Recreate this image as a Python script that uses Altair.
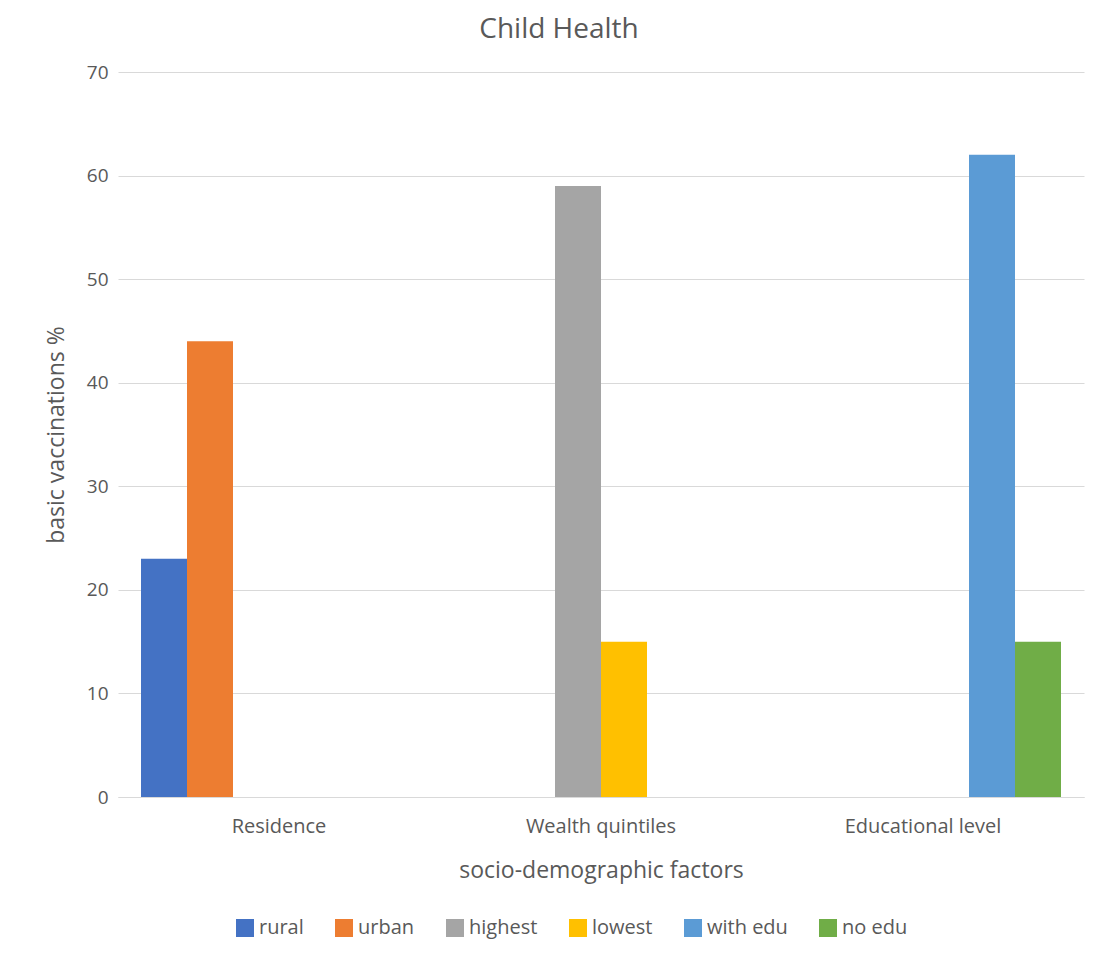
import altair as alt
import pandas as pd

categories = ["Residence", "Residence", "Wealth quintiles", "Wealth quintiles", "Educational level", "Educational level"]
series = ["rural", "urban", "highest", "lowest", "with edu", "no edu"]
values = [23, 44, 59, 15, 62, 15]
cat_order = ["Residence", "Wealth quintiles", "Educational level"]
colors = ["#4472C4", "#ED7D31", "#A5A5A5", "#FFC000", "#5B9BD5", "#70AD47"]

df = pd.DataFrame({"category": categories, "series": series, "value": values})

FONT = "Open Sans"
GRAY = "#595959"

chart = alt.Chart(df).mark_bar().encode(
    x=alt.X("category:N", sort=cat_order,
            scale=alt.Scale(domain=cat_order, paddingInner=46/322, paddingOuter=23/322),
            axis=alt.Axis(title="socio-demographic factors", labelAngle=0, ticks=False,
                          domainColor="#D9D9D9", labelPadding=19, titlePadding=23,
                          labelFontSize=20, titleFontSize=23)),
    xOffset=alt.XOffset("series:N", scale=alt.Scale(domain=series, paddingInner=0, paddingOuter=0)),
    y=alt.Y("value:Q", scale=alt.Scale(domain=[0, 70]),
            axis=alt.Axis(title="basic vaccinations %", values=list(range(0, 71, 10)),
                          ticks=False, domain=False, gridColor="#D9D9D9", labelPadding=10,
                          titlePadding=18, labelFontSize=19, titleFontSize=23)),
    color=alt.Color("series:N", scale=alt.Scale(domain=series, range=colors),
                    legend=alt.Legend(title=None, orient="none", direction="horizontal",
                                      legendX=117, legendY=846, symbolType="square",
                                      symbolSize=324, symbolStrokeWidth=0, columnPadding=30,
                                      labelOffset=4, labelFontSize=20, labelFont=FONT,
                                      labelColor=GRAY)),
).properties(
    width=966, height=725,
    title=alt.Title("Child Health", fontSize=28, font=FONT, fontWeight="normal", color=GRAY,
                    offset=19, dx=-42),
    autosize=alt.AutoSizeParams(type="none"),
    padding={"left": 118, "top": 72, "right": 12, "bottom": 163},
).configure_axis(
    labelFont=FONT, titleFont=FONT, labelColor=GRAY, titleColor=GRAY,
    titleFontWeight="normal",
).configure_view(stroke=None)

chart.save("out.html", embed_options={"renderer": "svg", "actions": False})
